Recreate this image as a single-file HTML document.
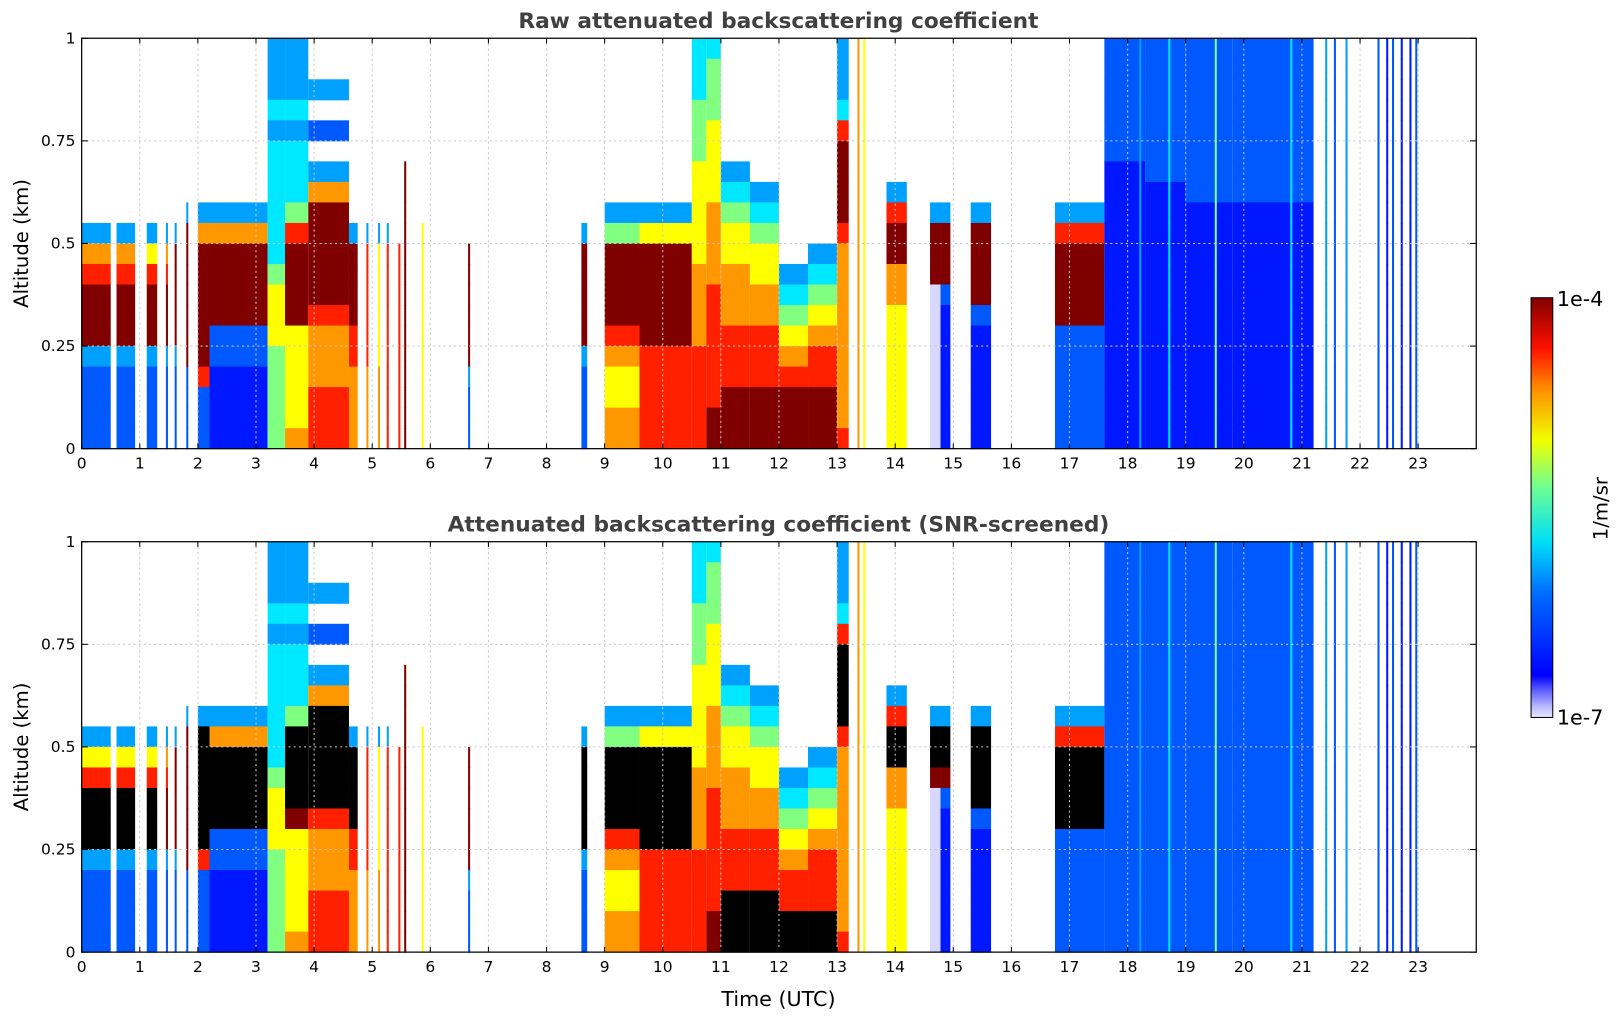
<!DOCTYPE html>
<html><head><meta charset="utf-8">
<style>
body{margin:0;background:#fff;}
svg{display:block;font-family:"DejaVu Sans","Liberation Sans",sans-serif;}
</style></head>
<body>
<svg id="fig" width="1621" height="1020" viewBox="0 0 1621 1020" xmlns="http://www.w3.org/2000/svg">
<defs>
<linearGradient id="jet" x1="0" y1="1" x2="0" y2="0">
<stop offset="0" stop-color="#e8e8ff"/>
<stop offset="0.03" stop-color="#b0b0ff"/>
<stop offset="0.07" stop-color="#5050ff"/>
<stop offset="0.1" stop-color="#0000ff"/>
<stop offset="0.3" stop-color="#0070ff"/>
<stop offset="0.42" stop-color="#00e0f8"/>
<stop offset="0.55" stop-color="#70ff90"/>
<stop offset="0.66" stop-color="#f0ff00"/>
<stop offset="0.78" stop-color="#ff9000"/>
<stop offset="0.88" stop-color="#ff1000"/>
<stop offset="1" stop-color="#800000"/>
</linearGradient>
</defs>
<g id="layer" transform="scale(1.03380)"></g>
</svg>
<script>
// ---- data ----
// profile strings: 20 altitude bins of 0.05 km, top (1.0 km) to bottom (0 km)
// '.' = no signal, 0..9 = log backscatter level, k = saturated (black)
const topStarts = [0,0.6,1.12,2.0,2.2,3.2,3.5,3.9,4.6,8.6,9.0,9.6,10.5,10.75,11.0,11.5,12.0,12.5,13.0,13.85,14.6,14.78,15.3,16.75,17.6,18.3,19.0,19.8];
const topEnds   = [0.5,0.92,1.3,2.2,3.2,3.5,3.9,4.6,4.75,8.7,9.6,10.5,10.75,11.0,11.5,12.0,12.5,13.0,13.2,14.2,14.78,14.95,15.65,17.6,18.3,19.0,19.8,21.2];
const topProfiles = [
".........37899932222",".........37899932222",".........36899932222",
"........379999998222","........379999221111","33343444444566655555",
"33343444589999666667","..3.2.37999998777888",".........39999887777",
".........39999932222","........359999876677","........369999988888",
"44455566666777788888","45556666777788888899","......34566777888999",
".......3456677888999","...........345678999","..........3456788999",
"33348999987777777778",".......3899776666666","........399900000000",
"........399921111111","........399992111111","........389999222222",
"22222211111111111111","22222221111111111111","22222222111111111111",
"22222222111111111111"];
const botStarts = topStarts;
const botEnds   = topEnds;
const botProfiles = [
".........368kkk32222",".........368kkk32222",".........368kkk32222",
"........3kkkkkk82222","........37kkkk221111","33343444444566655555",
"333434445kkkk9666667","..3.2.37kkkkk8777888",".........3kkkk887777",
".........3kkkkk32222","........35kkkk876677","........36kkkkk88888",
"44455566666777788888","45556666777788888899","......34566777888kkk",
".......3456677888kkk","...........3456788kk","..........34567888kk",
"33348kkkk87777777778",".......38kk776666666","........3kk900000000",
"........3kk921111111","........3kkkk2111111","........38kkkk222222",
"22222222222222222222","22222222222222222222","22222222222222222222",
"22222222222222222222"];
// thin vertical streaks: time (h) and profile
const lineTimes = [1.45,1.6,1.8,4.9,5.1,5.25,5.45,5.55,5.85,6.65,13.35,13.45,18.2,18.7,19.5,20.8,21.4,21.55,21.75,22.3,22.45,22.55,22.7,22.85,22.95];
const lineProfiles = [
".........37899932222",".........39999932222","........399999992222",
".........38888887777",".........36666667777",".........38888888888",
"..........8888888888","......99999999999999",".........66666666666",
"..........9999993222","77777777777777777777","66666666666666666666",
"33333333333333333333","44444444444444444444","55555555555555555555",
"44444444444444444444","33333333333333333333","22222222222222222222",
"33333333333333333333","22222222222222222222","11111111111111111111",
"22222222222222222222","11111111111111111111","11111111111111111111",
"22222222222222222222"];
const xTicks = [0,1,2,3,4,5,6,7,8,9,10,11,12,13,14,15,16,17,18,19,20,21,22,23];
const yTicks = [0,0.25,0.5,0.75,1];
const yTickLabels = ["0","0.25","0.5","0.75","1"];

const colors = {'0':'#d8d8ff','1':'#0018ff','2':'#0058ff','3':'#00a0ff','4':'#00e8ff','5':'#80ff80','6':'#ffff00','7':'#ff9800','8':'#ff2000','9':'#800000','k':'#000000'};

const NS = 'http://www.w3.org/2000/svg';
const layer = document.getElementById('layer');
const X0 = 79, X1 = 1428;
function xs(t){ return X0 + t*(X1-X0)/24; }
function mk(tag, attrs, parent){ const e=document.createElementNS(NS,tag); for(const k in attrs) e.setAttribute(k,attrs[k]); (parent||layer).appendChild(e); return e; }

function panel(top, title, starts, ends, profiles, pname){
  const H = 397;
  const ys = a => top + (1-a)*H;
  const g = mk('g',{});
  
  
  const rowH = H/20;
  function drawProfile(t0,t1,prof,grp){
    for(let r=0;r<20;r++){
      const c = prof[r];
      if(!c || c==='.') continue;
      const yTop = ys(1 - r*0.05);
      const rc = mk('rect',{x:xs(t0).toFixed(2),y:yTop.toFixed(2),width:Math.max(1.5,xs(t1)-xs(t0)).toFixed(2),height:(rowH+0.5).toFixed(2),fill:colors[c]},grp);
      
      
    }
  }
  for(let i=0;i<starts.length;i++) drawProfile(starts[i],ends[i],profiles[i],g);
  for(let i=0;i<lineTimes.length;i++) drawProfile(lineTimes[i],lineTimes[i]+0.035,lineProfiles[i],g);
  const grid = mk('g',{stroke:'#c8c8c8','stroke-width':1,'stroke-dasharray':'2,3'});
  
  
  xTicks.forEach(t=>{ if(t>0) mk('line',{x1:xs(t),x2:xs(t),y1:top,y2:top+H},grid); });
  yTicks.forEach(a=>{ if(a>0&&a<1) mk('line',{x1:X0,x2:X1,y1:ys(a),y2:ys(a)},grid); });
  const fr = mk('rect',{x:X0,y:top,width:X1-X0,height:H,fill:'none',stroke:'#000','stroke-width':1.2});
  
  
  xTicks.forEach(t=>{
    mk('line',{x1:xs(t),x2:xs(t),y1:top+H,y2:top+H-5,stroke:'#000'});
    mk('line',{x1:xs(t),x2:xs(t),y1:top,y2:top+5,stroke:'#000'});
    const tx = mk('text',{x:xs(t),y:top+H+19,'font-size':15,'text-anchor':'middle',fill:'#000'});
    tx.textContent = t;
    
    
  });
  yTicks.forEach((a,i)=>{
    mk('line',{x1:X0,x2:X0+6,y1:ys(a),y2:ys(a),stroke:'#000'});
    mk('line',{x1:X1,x2:X1-6,y1:ys(a),y2:ys(a),stroke:'#000'});
    const tx = mk('text',{x:73,y:ys(a)+5,'font-size':15,'text-anchor':'end',fill:'#000'});
    tx.textContent = yTickLabels[i];
    
    
  });
  const tt = mk('text',{x:753,y:top-10,'font-size':21,'font-weight':'bold','text-anchor':'middle',fill:'#404040'});
  tt.textContent = title;
  
  
  const yl = mk('text',{x:0,y:0,'font-size':19,'text-anchor':'middle',fill:'#000',transform:`translate(27,${top+H/2}) rotate(-90)`});
  yl.textContent = 'Altitude (km)';
  
  
}
panel(37,'Raw attenuated backscattering coefficient',topStarts,topEnds,topProfiles,'raw-backscatter-panel');
panel(524,'Attenuated backscattering coefficient (SNR-screened)',botStarts,botEnds,botProfiles,'screened-backscatter-panel');

const xl = mk('text',{x:753,y:973,'font-size':20,'text-anchor':'middle',fill:'#000'});
xl.textContent = 'Time (UTC)';



const cb = mk('rect',{x:1481,y:288,width:21,height:406,fill:'url(#jet)',stroke:'#000','stroke-width':1});


const c1 = mk('text',{x:1506,y:296,'font-size':20,fill:'#000'}); c1.textContent='1e-4';


const c2 = mk('text',{x:1506,y:701,'font-size':20,fill:'#000'}); c2.textContent='1e-7';


const cu = mk('text',{x:0,y:0,'font-size':19,'text-anchor':'middle',fill:'#000',transform:'translate(1555,492) rotate(-90)'}); cu.textContent='1/m/sr';


</script>
</body></html>
